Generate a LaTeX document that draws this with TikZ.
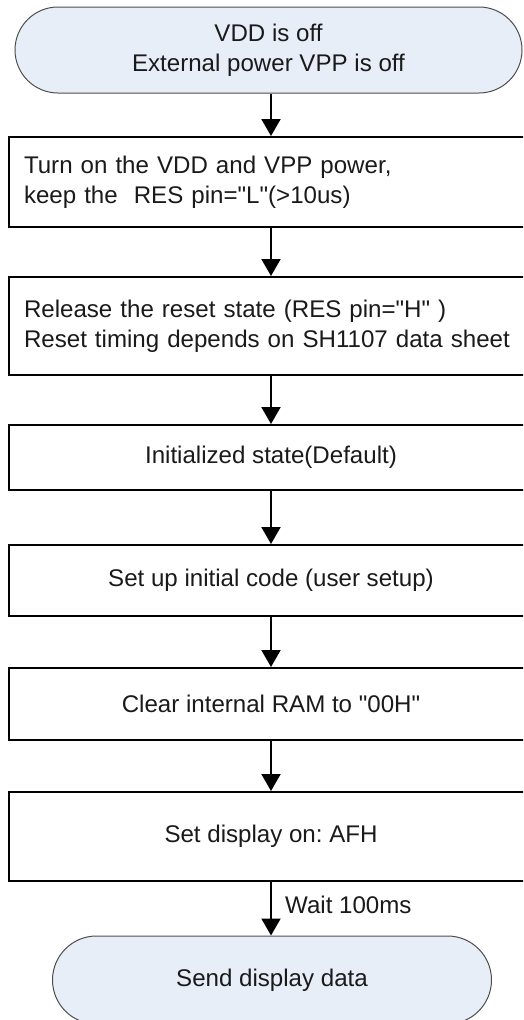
\documentclass[tikz,border=0pt]{standalone}
\usepackage{fontspec}
\setmainfont{Liberation Sans}[Ligatures=TeXOff]
\usetikzlibrary{arrows.meta,shapes.misc}
\definecolor{termfill}{HTML}{E8EEF8}
\definecolor{termline}{HTML}{4D4D4D}
\definecolor{txt}{HTML}{1A1A1A}
\newcommand{\dq}{\symbol{34}}
\begin{document}
\frenchspacing
\begin{tikzpicture}[x=1pt,y=-1pt,
  every node/.style={font=\fontsize{24.1}{30}\selectfont, text=txt},
  term/.style={rounded rectangle, rounded rectangle arc length=180, draw=termline, line width=1pt, fill=termfill, inner sep=0pt, align=center},
  stepbox/.style={draw=black, line width=2pt, rectangle, minimum width=524pt, inner sep=0pt, align=center},
  leftbox/.style={stepbox, text width=494pt, inner xsep=15pt, align=left},
  arr/.style={draw=black, line width=2pt, -{Triangle[width=19pt,length=17pt]}},
  lbl/.style={inner sep=0pt, anchor=west}
]
\useasboundingbox (0,0) rectangle (523,1020);
\clip (0,0) rectangle (523,1020);
\fill[white] (0,0) rectangle (523,1020);

\node[term, minimum width=507pt, minimum height=86pt] (t1) at (268.5,50) {VDD is off\\External power VPP is off};
\node[leftbox, minimum height=90pt] (b1) at (271,182) {Turn on the VDD and VPP power,\\keep the\ \ RES pin=\dq L\dq(>10us)};
\node[leftbox, minimum height=98pt] (b2) at (271,326) {Release the reset state (RES pin=\dq H\dq\ )\\Reset timing depends on SH1107 data sheet};
\node[stepbox, minimum height=65pt] (b3) at (271,457.5) {Initialized state(Default)};
\node[stepbox, minimum height=71pt] (b4) at (271,580.5) {Set up initial code (user setup)};
\node[stepbox, minimum height=72pt] (b5) at (271,704) {Clear internal RAM to \dq 00H\dq};
\node[stepbox, minimum height=89pt] (b6) at (271,836.5) {Set display on: AFH};
\node[term, minimum width=439pt, minimum height=88pt] (t2) at (272,980) {Send display data};

\draw[arr] (b1.north |- t1.south) -- (b1.north);
\draw[arr] (b1.south) -- (b2.north);
\draw[arr] (b2.south) -- (b3.north);
\draw[arr] (b3.south) -- (b4.north);
\draw[arr] (b4.south) -- (b5.north);
\draw[arr] (b5.south) -- (b6.north);
\draw[arr] (b6.south) -- (b6.south |- t2.north);
\node[lbl] (wl) at (285,905) {Wait 100ms};
\end{tikzpicture}
\end{document}
